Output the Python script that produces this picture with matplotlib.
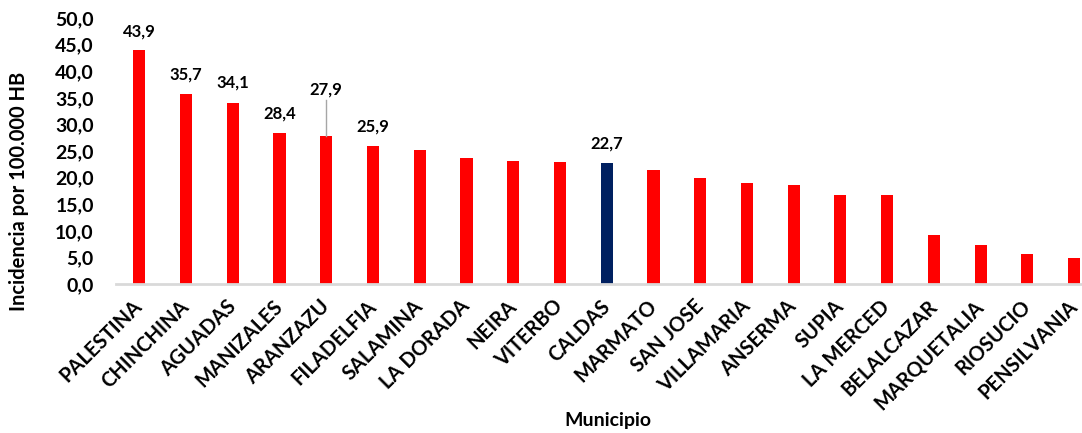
import matplotlib.pyplot as plt
import numpy as np

plt.rcParams['font.family'] = ['Lato', 'DejaVu Sans']

municipios = ['PALESTINA', 'CHINCHINA', 'AGUADAS', 'MANIZALES', 'ARANZAZU',
              'FILADELFIA', 'SALAMINA', 'LA DORADA', 'NEIRA', 'VITERBO',
              'CALDAS', 'MARMATO', 'SAN JOSE', 'VILLAMARIA', 'ANSERMA',
              'SUPIA', 'LA MERCED', 'BELALCAZAR', 'MARQUETALIA', 'RIOSUCIO',
              'PENSILVANIA']
incidencia = [43.9, 35.7, 34.1, 28.4, 27.9, 25.9, 25.2, 23.7, 23.1, 22.9,
              22.7, 21.4, 19.9, 18.9, 18.7, 16.7, 16.7, 9.2, 7.3, 5.6, 4.8]

# bars that carry a value label, with the label height (data units)
etiquetas = {'PALESTINA': 47.5, 'CHINCHINA': 39.4, 'AGUADAS': 37.8,
             'MANIZALES': 32.1, 'ARANZAZU': 36.5, 'FILADELFIA': 29.6,
             'CALDAS': 26.5}

fig = plt.figure(figsize=(10.82, 4.33), dpi=100)
ax = fig.add_axes([116 / 1082, 149 / 433, 966 / 1082, 266 / 433])

x = np.arange(len(municipios))
colores = ['#002060' if m == 'CALDAS' else '#ff0000' for m in municipios]
ax.bar(x, incidencia, width=0.26, color=colores)

for i, m in enumerate(municipios):
    if m in etiquetas:
        y_lab = etiquetas[m]
        ax.text(i, y_lab, f'{incidencia[i]:.1f}'.replace('.', ','),
                ha='center', va='center', fontsize=12, fontweight='bold')
        if m == 'ARANZAZU':
            ax.plot([i, i], [incidencia[i], y_lab - 2.0], color='#a6a6a6', lw=1)

ax.set_xlim(-0.5, 20.17)
ax.set_ylim(0, 50)
ax.set_yticks(np.arange(0, 51, 5))
ax.set_yticklabels([f'{v:.1f}'.replace('.', ',') for v in np.arange(0, 51, 5)],
                   fontsize=14, fontweight='bold')
ax.set_xticks(x)
ax.set_xticklabels(municipios, rotation=45, ha='right', va='center',
                   rotation_mode='anchor', fontsize=14.5, fontweight='bold')
ax.tick_params(axis='both', length=0)
ax.tick_params(axis='y', pad=16)
ax.tick_params(axis='x', pad=14)

for s in ['top', 'right', 'left']:
    ax.spines[s].set_visible(False)
ax.spines['bottom'].set_color('#d9d9d9')
ax.spines['bottom'].set_linewidth(2)

ax.set_ylabel('Incidencia por 100.000 HB', fontsize=14.5, fontweight='bold')
ax.yaxis.set_label_coords((29 - 116) / 966, (284 - 191) / 266)
ax.set_xlabel('Municipio', fontsize=14, fontweight='bold')
ax.xaxis.set_label_coords((608 - 116) / 966, -(412 - 284) / 266)

fig.savefig('out.png', dpi=100)
